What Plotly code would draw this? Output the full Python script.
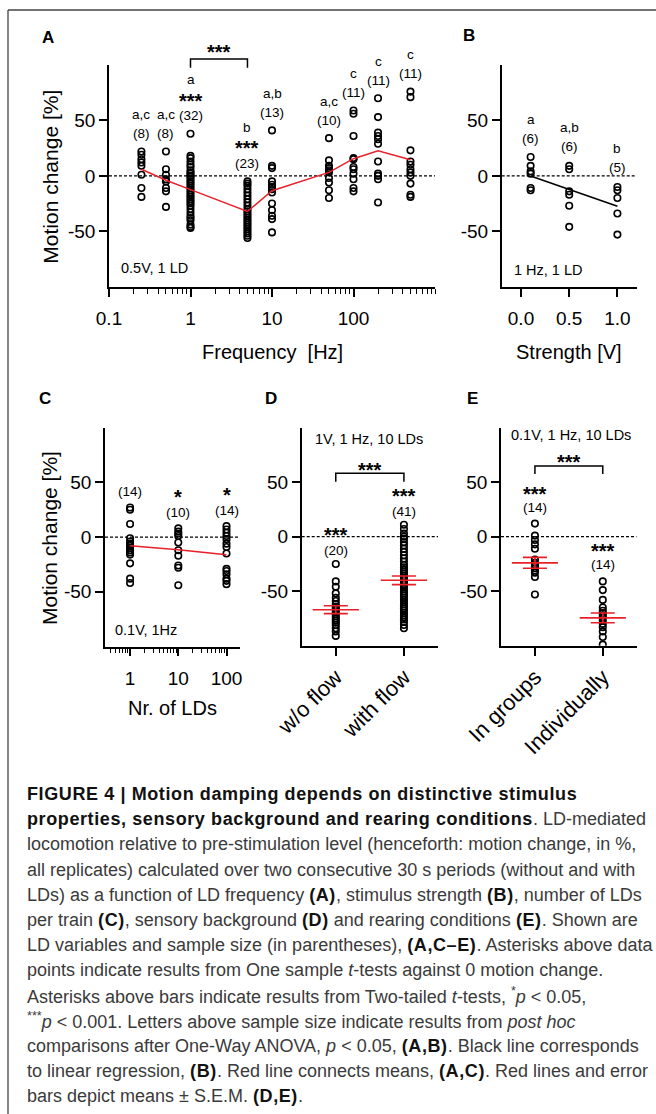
import numpy as np
import plotly.graph_objects as go

W, H = 656, 1114
FONT = "Liberation Sans, Arial, sans-serif"
RED = "#e8202a"

# ---------------- data ----------------
# Panel A: motion change vs LD frequency
freq_hz = [0.25, 0.5, 1, 5, 10, 50, 100, 200, 500]
freq_vals = [
    [22, 19, 15, 12, 9, 1, -11, -19],
    [22, 6, 1, -3, -5, -11, -14, -28],
    [38, 18, 16, 13, 10, 8, 5, 3, 2, 0, -1, -3, -5, -7, -9, -11, -13, -15, -17, -19,
     -21, -23, -25, -27, -30, -33, -36, -38, -40, -44, -46, -47],
    [-5, -7, -9, -12, -15, -18, -21, -24, -27, -30, -32, -34, -36, -38, -40, -42, -44,
     -46, -48, -50, -52, -54, -56],
    [41, 9, 7, -5, -8, -10, -12, -15, -25, -31, -36, -39, -51],
    [34, 14, 9, 7, 5, 3, -2, -6, -13, -20],
    [59, 56, 36, 16, 15, 8, 6, 2, -3, -11, -14],
    [70, 53, 39, 36, 33, 29, 13, 2, 0, -3, -24],
    [76, 71, 23, 13, 10, 6, 3, 0, -7, -17, -19],
]
freq_n = [8, 8, 32, 23, 13, 10, 11, 11, 11]
freq_letters = ["a,c", "a,c", "a", "b", "a,b", "a,c", "c", "c", "c"]
freq_sig = ["", "", "***", "***", "", "", "", "", ""]

# Panel B: motion change vs stimulus strength
strength_v = [0.1, 0.5, 1.0]
strength_vals = [
    [17, 9, 4, 2, -11, -13],
    [9, 6, -14, -17, -27, -46],
    [-10, -13, -20, -34, -53],
]
strength_n = [6, 6, 5]
strength_letters = ["a", "a,b", "b"]

# Panel C: motion change vs number of LDs
nlds = [1, 10, 100]
nlds_vals = [
    [27, 25, 12, -1, -4, -6, -8, -10, -12, -14, -16, -24, -38, -42],
    [8, 5, 3, 1, -5, -12, -17, -26, -28, -44],
    [10, 7, 4, 1, -2, -6, -9, -15, -29, -31, -34, -38, -40, -43],
]
nlds_n = [14, 10, 14]
nlds_sig = ["", "*", "*"]

# Panel D: sensory background
flow_cats = ["w/o flow", "with flow"]
flow_vals = [
    [-25, -41, -46, -52, -56, -59, -62, -64, -66, -67, -69, -71, -73, -75, -77, -79,
     -81, -84, -87, -91],
    [11, 7, 3, 0, -2, -5, -8, -11, -14, -17, -20, -23, -26, -28, -30, -32, -34, -36,
     -38, -40, -42, -44, -46, -48, -50, -52, -54, -56, -58, -60, -62, -64, -66, -68,
     -70, -72, -74, -76, -78, -81, -84],
]
flow_n = [20, 41]
flow_sig = ["***", "***"]
flow_mean = [-67, -40]
flow_sem = [3.6, 4.0]

# Panel E: rearing conditions
rear_cats = ["In groups", "Individually"]
rear_vals = [
    [12, 1, -3, -7, -11, -21, -24, -26, -27, -29, -31, -33, -37, -53],
    [-41, -49, -58, -65, -68, -70, -72, -74, -77, -80, -83, -87, -92, -99],
]
rear_n = [14, 14]
rear_sig = ["***", "***"]
rear_mean = [-24, -74.5]
rear_sem = [5, 4.5]

y_ticks = [-50, 0, 50]
y_ticktext = ["-50", "0", "50"]

# ---------------- layout geometry (pixels) ----------------
PANELS = {
    "A": dict(ax="", x=(109, 435), y=(65, 286.7), xr=(-1, 3), log=True),
    "B": dict(ax="2", x=(501.7, 636.7), y=(65, 286.7), xr=(-0.2, 1.2), log=False),
    "C": dict(ax="3", x=(105, 240), y=(427.7, 646.5), xr=(-0.52, 2.28), log=True),
    "D": dict(ax="4", x=(301.7, 438), y=(427.7, 645.7), xr=(-0.5, 1.5), log=False),
    "E": dict(ax="5", x=(501, 636.7), y=(427.7, 645.7), xr=(-0.5, 1.5), log=False),
}
YR = (-100, 100)


def px(x):
    return x / W


def py(y):
    return 1 - y / H


def data_to_px(panel, xv):
    p = PANELS[panel]
    r0, r1 = p["xr"]
    v = np.log10(xv) if p["log"] else xv
    return p["x"][0] + (v - r0) / (r1 - r0) * (p["x"][1] - p["x"][0])


fig = go.Figure()

circle = dict(symbol="circle-open", size=6.5, color="black", line=dict(width=1.6))


def add_zero(panel):
    p = PANELS[panel]
    r0, r1 = p["xr"]
    xs = [10 ** r0, 10 ** r1] if p["log"] else [r0, r1]
    fig.add_trace(go.Scatter(x=xs, y=[0, 0], mode="lines",
                             line=dict(color="black", width=1.3, dash="3px,2px"),
                             xaxis="x" + p["ax"], yaxis="y" + p["ax"], hoverinfo="skip"))


def add_points(panel, xs, vals):
    p = PANELS[panel]
    X, Y = [], []
    for x, col in zip(xs, vals):
        X += [x] * len(col)
        Y += col
    fig.add_trace(go.Scatter(x=X, y=Y, mode="markers", marker=circle,
                             xaxis="x" + p["ax"], yaxis="y" + p["ax"]))


for k in PANELS:
    add_zero(k)

# A
add_points("A", freq_hz, freq_vals)
fig.add_trace(go.Scatter(x=freq_hz, y=[np.mean(v) for v in freq_vals], mode="lines",
                         line=dict(color=RED, width=1.5), xaxis="x", yaxis="y"))
# B
add_points("B", strength_v, strength_vals)
bx = np.concatenate([[x] * len(v) for x, v in zip(strength_v, strength_vals)])
by = np.concatenate(strength_vals)
slope, icpt = np.polyfit(bx, by, 1)
fig.add_trace(go.Scatter(x=[strength_v[0], strength_v[-1]],
                         y=[icpt + slope * strength_v[0], icpt + slope * strength_v[-1]],
                         mode="lines", line=dict(color="black", width=1.6),
                         xaxis="x2", yaxis="y2"))
# C
add_points("C", nlds, nlds_vals)
fig.add_trace(go.Scatter(x=nlds, y=[np.mean(v) for v in nlds_vals], mode="lines",
                         line=dict(color=RED, width=1.5), xaxis="x3", yaxis="y3"))


def add_cat(panel, cats, vals, means, sems):
    p = PANELS[panel]
    idx = list(range(len(cats)))
    add_points(panel, idx, vals)
    for i, m in zip(idx, means):
        fig.add_trace(go.Scatter(x=[i - 0.34, i + 0.34], y=[m, m], mode="lines",
                                 line=dict(color=RED, width=1.6),
                                 xaxis="x" + p["ax"], yaxis="y" + p["ax"]))
    fig.add_trace(go.Scatter(x=idx, y=means, mode="markers", marker=dict(size=0.1, color=RED),
                             error_y=dict(type="data", array=sems, color=RED,
                                          thickness=1.6, width=12),
                             xaxis="x" + p["ax"], yaxis="y" + p["ax"]))


add_cat("D", flow_cats, flow_vals, flow_mean, flow_sem)
add_cat("E", rear_cats, rear_vals, rear_mean, rear_sem)

# ---------------- axes ----------------
axis_common = dict(showline=True, linecolor="black", linewidth=1.6, ticks="outside",
                   ticklen=8, tickwidth=1.5, tickcolor="black", showgrid=False,
                   zeroline=False, automargin=False,
                   tickfont=dict(size=19, color="black", family=FONT))
layout = {}
for k, p in PANELS.items():
    xa = dict(axis_common, domain=[px(p["x"][0]), px(p["x"][1])],
              anchor="y" + p["ax"], range=list(p["xr"]))
    ya = dict(axis_common, domain=[py(p["y"][1]), py(p["y"][0])],
              anchor="x" + p["ax"], range=list(YR), tickmode="array",
              tickvals=y_ticks, ticktext=y_ticktext)
    if p["log"]:
        xa["type"] = "log"
    layout["xaxis" + p["ax"]] = xa
    layout["yaxis" + p["ax"]] = ya

minorA = [m * 10 ** e for e in (-1, 0, 1, 2) for m in range(2, 10)] + [1000]
layout["xaxis"].update(tickmode="array", tickvals=[0.1, 1, 10, 100],
                       ticktext=["0.1", "1", "10", "100"], ticklabelstandoff=6,
                       minor=dict(tickmode="array", tickvals=minorA, ticks="outside",
                                  ticklen=5, tickwidth=1.2, tickcolor="black"))
layout["xaxis2"].update(tickmode="array", tickvals=[0, 0.5, 1.0],
                        ticktext=["0.0", "0.5", "1.0"], ticklabelstandoff=6)
minorC = [m * 10 ** e for e in (-1, 0, 1) for m in range(2, 10)
          if 10 ** -0.52 < m * 10 ** e < 10 ** 2.28]
layout["xaxis3"].update(tickmode="array", tickvals=nlds, ticktext=[str(v) for v in nlds],
                        ticklabelstandoff=6,
                        minor=dict(tickmode="array", tickvals=minorC, ticks="outside",
                                   ticklen=5, tickwidth=1.2, tickcolor="black"))
layout["xaxis4"].update(tickmode="array", tickvals=[0, 1], ticktext=flow_cats,
                        tickangle=-45, tickfont=dict(size=22, color="black", family=FONT))
layout["xaxis5"].update(tickmode="array", tickvals=[0, 1], ticktext=rear_cats,
                        tickangle=-45, tickfont=dict(size=22, color="black", family=FONT))

annotations = []


def ann(text, x, y, size=14, bold=False, xref="paper", yref="paper", xanchor="center",
        yanchor="middle", yshift=0, color="black", angle=0):
    if bold:
        text = "<b>" + text + "</b>"
    annotations.append(dict(text=text, x=x, y=y, xref=xref, yref=yref, showarrow=False,
                            xanchor=xanchor, yanchor=yanchor, yshift=yshift,
                            textangle=angle,
                            font=dict(size=size, color=color, family=FONT)))


def col_labels(panel, xs, vals, ns, letters=None, sigs=None, n_off=18, sig_off=38,
               let_off=37, let_off_sig=54):
    p = PANELS[panel]
    for i, (x, v, n) in enumerate(zip(xs, vals, ns)):
        top = max(v)
        xa = float(np.log10(x)) if p["log"] else x   # log axes take log10 positions
        kw = dict(xref="x" + p["ax"], yref="y" + p["ax"])
        ann("(%d)" % n, xa, top, size=13.5, yshift=n_off, **kw)
        has_sig = sigs is not None and sigs[i]
        if has_sig:
            ann(sigs[i], xa, top, size=20, bold=True, yshift=sig_off - 5, **kw)
        if letters is not None:
            ann(letters[i], xa, top, size=13.5,
                yshift=let_off_sig if has_sig else let_off, **kw)


col_labels("A", freq_hz, freq_vals, freq_n, freq_letters, freq_sig)
col_labels("B", strength_v, strength_vals, strength_n, strength_letters, None, 19, 0, 38)
col_labels("C", nlds, nlds_vals, nlds_n, None, nlds_sig, 16, 36)
col_labels("D", [0, 1], flow_vals, flow_n, None, flow_sig, 13, 34)
col_labels("E", [0, 1], rear_vals, rear_n, None, rear_sig, 16.5, 35)

# brackets with significance
shapes = []


def bracket(panel, x0, x1, ytop, ybot, ystar):
    a, b = px(data_to_px(panel, x0)), px(data_to_px(panel, x1))
    shapes.append(dict(type="path", xref="paper", yref="paper",
                       path="M %f,%f L %f,%f L %f,%f L %f,%f" % (
                           a, py(ybot), a, py(ytop), b, py(ytop), b, py(ybot)),
                       line=dict(color="black", width=1.5)))
    ann("***", (a + b) / 2, py(ystar), size=20, bold=True, yshift=-5)


bracket("A", 1, 5, 59, 67.7, 47.3)
bracket("D", 0, 1, 473.3, 481.7, 465)
bracket("E", 0, 1, 466, 474, 456.7)

# panel letters
for letter, (x, y) in {"A": (48, 37), "B": (469, 36), "C": (45, 398), "D": (271, 398),
                       "E": (472, 398)}.items():
    ann(letter, px(x), py(y), size=17, bold=True)

# inside-panel condition texts
ann("0.5V, 1 LD", px(154), py(268), size=14.5)
ann("1 Hz, 1 LD", px(548), py(270), size=14.5)
ann("0.1V, 1Hz", px(146), py(630), size=14.5)
ann("1V, 1 Hz, 10 LDs", px(369), py(439), size=14.5)
ann("0.1V, 1 Hz, 10 LDs", px(570.7), py(435), size=14.5)

# axis titles
ann("Motion change [%]", px(51), py(176.7), size=21, angle=-90)
ann("Motion change [%]", px(49), py(538), size=21, angle=-90)
ann("Frequency  [Hz]", px(272), py(352), size=20)
ann("Strength [V]", px(569), py(352), size=20)
ann("Nr. of LDs", px(172), py(708), size=20)


# caption
def B(s):
    return '<span style="letter-spacing:0.6px;color:#111">' + "<b>" + s + "</b></span>"


caption = [
    B("FIGURE 4 | Motion damping depends on distinctive stimulus"),
    B("properties, sensory background and rearing conditions") + ". LD-mediated",
    "locomotion relative to pre-stimulation level (henceforth: motion change, in %,",
    "all replicates) calculated over two consecutive 30 s periods (without and with",
    "LDs) as a function of LD frequency " + B("(A)") + ", stimulus strength " + B("(B)")
    + ", number of LDs",
    "per train " + B("(C)") + ", sensory background " + B("(D)")
    + " and rearing conditions " + B("(E)") + ". Shown are",
    "LD variables and sample size (in parentheses), " + B("(A,C–E)")
    + ". Asterisks above data",
    "points indicate results from One sample <i>t</i>-tests against 0 motion change.",
    "Asterisks above bars indicate results from Two-tailed <i>t</i>-tests, "
    "<sup>*</sup><i>p</i> &lt; 0.05,",
    "<sup>***</sup><i>p</i> &lt; 0.001. Letters above sample size indicate results from "
    "<i>post hoc</i>",
    "comparisons after One-Way ANOVA, <i>p</i> &lt; 0.05, " + B("(A,B)")
    + ". Black line corresponds",
    "to linear regression, " + B("(B)") + ". Red line connects means, " + B("(A,C)")
    + ". Red lines and error",
    "bars depict means ± S.E.M. " + B("(D,E)") + ".",
]
for i, line in enumerate(caption):
    ann(line, px(25), py(794 + 25.2 * i), size=18, xanchor="left", color="#3a3a3a")

# frame
shapes.append(dict(type="line", xref="paper", yref="paper", x0=px(8), x1=px(8),
                   y0=py(10), y1=0, line=dict(color="#444", width=1.3)))
shapes.append(dict(type="line", xref="paper", yref="paper", x0=px(8), x1=1,
                   y0=py(10), y1=py(10), line=dict(color="#444", width=1.3)))

fig.update_layout(width=W, height=H, margin=dict(l=0, r=0, t=0, b=0, autoexpand=False),
                  paper_bgcolor="white", plot_bgcolor="white", showlegend=False,
                  font=dict(family=FONT, color="black"), annotations=annotations,
                  shapes=shapes, **layout)

fig.write_html("out.html", config={"displayModeBar": False},
               post_script="document.body.style.margin='0px';"
                           "document.body.style.overflow='hidden';")
